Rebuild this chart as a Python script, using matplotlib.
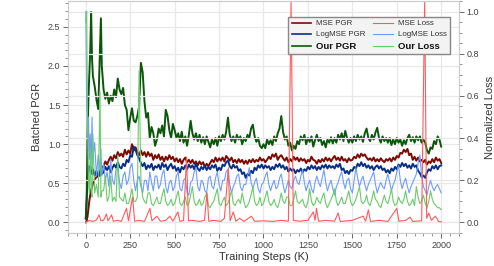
import numpy as np
import matplotlib
matplotlib.use("Agg")
import matplotlib.pyplot as plt
from matplotlib.lines import Line2D
from matplotlib.ticker import MultipleLocator

plt.rcParams['font.family'] = ['Liberation Sans', 'DejaVu Sans']

# training steps (K): dense at the start, then every 10K
steps = [0, 5, 10, 15, 20, 25, 30, 35, 40, 50, 60, 70, 80, 85, 90] + list(range(100, 2001, 10))

# batched PGR (left axis), one row per 100K after the first 100K
our_pgr = [0.05, 0.3, 1.15, 1.6, 1.9, 2.2, 2.69, 2.1, 1.87, 1.74, 1.57, 1.45, 2.2, 2.61, 2.0,
           1.7, 1.58, 1.66, 1.52, 1.62, 1.55, 1.7, 1.6, 1.84, 1.7,
           1.64, 1.72, 1.5, 1.44, 1.18, 1.34, 1.46, 1.3, 1.28, 1.36,
           1.48, 2.04, 1.92, 1.55, 1.34, 1.4, 1.08, 1.22, 1.14, 0.98,
           1.06, 1.2, 1.14, 1.24, 1.1, 1.44, 1.36, 1.18, 1.08, 1.26,
           1.18, 1.08, 1.14, 1.04, 1.16, 1.02, 1.1, 0.98, 1.12, 1.3,
           1.14, 1.06, 1.14, 1.04, 1.12, 1.02, 1.09, 1.0, 1.1, 1.03,
           0.96, 1.06, 1.0, 1.08, 0.98, 1.1, 1.04, 1.12, 1.06, 1.16,
           1.34, 1.12, 1.04, 1.1, 1.02, 1.12, 1.06, 1.1, 1.0, 1.08,
           1.04, 1.12, 1.08, 1.2, 1.25, 1.1, 1.03, 1.08, 0.98, 0.95,
           1.0, 0.95, 1.06, 1.0, 1.05, 0.99, 1.1, 1.04, 1.14, 1.2,
           1.36, 1.16, 1.06, 1.1, 0.98, 1.02, 0.92, 0.98, 0.94, 1.04,
           1.0, 1.1, 1.05, 1.12, 1.0, 1.08, 1.03, 1.1, 0.97, 1.05,
           1.12, 1.04, 1.08, 0.99, 1.04, 0.96, 1.06, 1.02, 1.09, 1.01,
           1.08, 1.02, 1.12, 1.06, 1.14, 1.04, 1.17, 1.08, 1.02, 1.08,
           1.02, 1.1, 1.04, 1.12, 1.06, 1.1, 1.03, 1.14, 1.2, 1.08,
           1.04, 1.12, 1.06, 1.15, 1.21, 1.08, 1.02, 1.1, 1.04, 1.08,
           1.02, 1.08, 0.99, 1.06, 1.0, 1.08, 1.02, 1.06, 0.98, 1.05,
           1.0, 1.08, 1.12, 1.04, 1.09, 1.02, 1.1, 1.05, 1.1, 1.02,
           1.06, 1.02, 0.92, 0.88, 0.96, 0.94, 1.04, 1.0, 1.1, 1.06,
           0.97]
mse_pgr = [0.0, 0.02, 0.08, 0.18, 0.28, 0.35, 0.42, 0.45, 0.5, 0.55, 0.58, 0.62, 0.6, 0.66, 0.7,
           0.72, 0.78, 0.74, 0.8, 0.84, 0.79, 0.86, 0.82, 0.9, 0.85,
           0.88, 0.84, 0.93, 0.87, 0.92, 0.88, 1.0, 0.92, 0.96, 0.9,
           0.86, 0.92, 0.86, 0.9, 0.84, 0.9, 0.85, 0.88, 0.8, 0.86,
           0.82, 0.87, 0.8, 0.84, 0.78, 0.84, 0.8, 0.86, 0.81, 0.84,
           0.78, 0.82, 0.77, 0.81, 0.75, 0.8, 0.83, 0.77, 0.8, 0.76,
           0.8, 0.75, 0.78, 0.73, 0.78, 0.74, 0.77, 0.71, 0.75, 0.72,
           0.76, 0.8, 0.77, 0.83, 0.78, 0.82, 0.79, 0.83, 0.78, 0.85,
           0.82, 0.79, 0.83, 0.77, 0.8, 0.76, 0.81, 0.77, 0.8, 0.75,
           0.79, 0.75, 0.8, 0.77, 0.81, 0.77, 0.8, 0.78, 0.83, 0.79,
           0.81, 0.77, 0.8, 0.84, 0.81, 0.87, 0.84, 0.88, 0.8, 0.84,
           0.86, 0.82, 0.79, 0.83, 0.77, 0.81, 0.78, 0.84, 0.8, 0.83,
           0.78, 0.82, 0.79, 0.81, 0.76, 0.8, 0.78, 0.84, 0.8, 0.79,
           0.75, 0.8, 0.77, 0.81, 0.78, 0.83, 0.79, 0.82, 0.78, 0.82,
           0.85, 0.8, 0.83, 0.79, 0.84, 0.79, 0.81, 0.77, 0.82, 0.79,
           0.8, 0.84, 0.82, 0.87, 0.83, 0.88, 0.85, 0.87, 0.83, 0.8,
           0.82, 0.79, 0.83, 0.78, 0.81, 0.78, 0.82, 0.79, 0.77, 0.81,
           0.79, 0.82, 0.78, 0.83, 0.8, 0.85, 0.83, 0.89, 0.88, 0.93,
           0.9, 0.94, 0.86, 0.88, 0.8, 0.84, 0.79, 0.83, 0.78, 0.8,
           0.77, 0.8, 0.74, 0.78, 0.76, 0.81, 0.77, 0.83, 0.79, 0.81,
           0.76]
logmse_pgr = [0.05, 0.3, 0.55, 0.7, 0.72, 0.65, 0.7, 0.62, 0.68, 0.6, 0.66, 0.58, 0.64, 0.7, 0.62,
              0.64, 0.71, 0.67, 0.72, 0.64, 0.7, 0.74, 0.7, 0.77, 0.71,
              0.69, 0.75, 0.72, 0.8, 0.77, 0.86, 0.84, 0.97, 0.93, 0.86,
              0.82, 0.76, 0.72, 0.76, 0.68, 0.73, 0.7, 0.75, 0.67, 0.72,
              0.7, 0.74, 0.68, 0.76, 0.71, 0.74, 0.67, 0.72, 0.75, 0.69,
              0.72, 0.66, 0.7, 0.64, 0.71, 0.68, 0.73, 0.68, 0.74, 0.7,
              0.73, 0.68, 0.75, 0.69, 0.66, 0.71, 0.68, 0.73, 0.67, 0.71,
              0.68, 0.73, 0.7, 0.74, 0.66, 0.7, 0.67, 0.74, 0.72, 0.77,
              0.79, 0.72, 0.69, 0.74, 0.7, 0.72, 0.66, 0.68, 0.62, 0.64,
              0.57, 0.62, 0.6, 0.66, 0.63, 0.7, 0.67, 0.73, 0.7, 0.74,
              0.69, 0.73, 0.7, 0.72, 0.67, 0.71, 0.68, 0.74, 0.71, 0.75,
              0.7, 0.73, 0.68, 0.71, 0.65, 0.69, 0.66, 0.68, 0.63, 0.67,
              0.65, 0.69, 0.64, 0.68, 0.66, 0.71, 0.68, 0.73, 0.69, 0.72,
              0.67, 0.71, 0.68, 0.73, 0.7, 0.74, 0.69, 0.73, 0.7, 0.72,
              0.69, 0.74, 0.71, 0.75, 0.67, 0.69, 0.63, 0.66, 0.62, 0.67,
              0.66, 0.71, 0.69, 0.75, 0.72, 0.77, 0.72, 0.75, 0.7, 0.73,
              0.69, 0.72, 0.67, 0.71, 0.73, 0.69, 0.72, 0.67, 0.69, 0.64,
              0.67, 0.63, 0.69, 0.66, 0.71, 0.68, 0.74, 0.71, 0.76, 0.72,
              0.75, 0.7, 0.73, 0.69, 0.75, 0.71, 0.73, 0.66, 0.63, 0.58,
              0.6, 0.57, 0.64, 0.68, 0.66, 0.72, 0.69, 0.73, 0.68, 0.72,
              0.73]

# normalized loss (right axis)
logmse_loss = [1.0, 0.55, 0.4, 0.5, 0.3, 0.42, 0.25, 0.5, 0.3, 0.38, 0.22, 0.32, 0.25, 0.35, 0.22,
               0.28, 0.2, 0.24, 0.17, 0.3, 0.2, 0.18, 0.25, 0.26, 0.19,
               0.16, 0.22, 0.24, 0.18, 0.2, 0.26, 0.28, 0.2, 0.15, 0.2,
               0.22, 0.17, 0.14, 0.2, 0.2, 0.15, 0.24, 0.19, 0.15, 0.22,
               0.22, 0.16, 0.18, 0.23, 0.25, 0.17, 0.14, 0.19, 0.2, 0.15,
               0.17, 0.22, 0.24, 0.16, 0.15, 0.2, 0.21, 0.14, 0.13, 0.19,
               0.2, 0.24, 0.26, 0.17, 0.15, 0.2, 0.19, 0.15, 0.14, 0.21,
               0.22, 0.17, 0.16, 0.21, 0.24, 0.18, 0.15, 0.2, 0.2, 0.24,
               0.25, 0.18, 0.14, 0.17, 0.19, 0.22, 0.23, 0.17, 0.15, 0.18,
               0.18, 0.22, 0.26, 0.19, 0.16, 0.19, 0.21, 0.16, 0.14, 0.18,
               0.19, 0.22, 0.24, 0.18, 0.15, 0.18, 0.2, 0.16, 0.17, 0.21,
               0.23, 0.18, 0.14, 0.17, 0.2, 0.17, 0.16, 0.2, 0.22, 0.19,
               0.18, 0.22, 0.25, 0.19, 0.15, 0.18, 0.2, 0.16, 0.14, 0.19,
               0.22, 0.19, 0.17, 0.21, 0.25, 0.19, 0.15, 0.18, 0.2, 0.16,
               0.13, 0.17, 0.19, 0.22, 0.24, 0.19, 0.16, 0.2, 0.21, 0.16,
               0.14, 0.2, 0.26, 0.21, 0.17, 0.2, 0.22, 0.18, 0.15, 0.18,
               0.2, 0.22, 0.24, 0.18, 0.14, 0.17, 0.19, 0.17, 0.16, 0.2,
               0.23, 0.19, 0.15, 0.18, 0.2, 0.24, 0.27, 0.2, 0.16, 0.19,
               0.21, 0.17, 0.14, 0.17, 0.19, 0.21, 0.23, 0.28, 0.32, 0.22,
               0.17, 0.15, 0.13, 0.17, 0.2, 0.17, 0.15, 0.17, 0.18, 0.16,
               0.14]
our_loss = [0.95, 1.0, 0.45, 0.2, 0.14, 0.35, 0.15, 0.12, 0.42, 0.14, 0.18, 0.12, 0.62, 0.12, 0.15,
            0.15, 0.22, 0.1, 0.12, 0.22, 0.1, 0.12, 0.1, 0.32, 0.12,
            0.11, 0.1, 0.14, 0.09, 0.09, 0.12, 0.16, 0.1, 0.1, 0.12,
            0.72, 0.2, 0.12, 0.1, 0.09, 0.14, 0.14, 0.09, 0.08, 0.1,
            0.12, 0.09, 0.09, 0.13, 0.16, 0.1, 0.08, 0.09, 0.11, 0.08,
            0.09, 0.12, 0.15, 0.09, 0.08, 0.1, 0.12, 0.08, 0.09, 0.13,
            0.17, 0.1, 0.08, 0.09, 0.11, 0.08, 0.09, 0.12, 0.14, 0.08,
            0.07, 0.09, 0.1, 0.13, 0.16, 0.09, 0.08, 0.1, 0.12, 0.08,
            0.09, 0.12, 0.15, 0.09, 0.08, 0.1, 0.11, 0.09, 0.14, 0.1,
            0.07, 0.08, 0.1, 0.13, 0.17, 0.1, 0.08, 0.09, 0.12, 0.08,
            0.09, 0.12, 0.15, 0.1, 0.08, 0.09, 0.11, 0.08, 0.07, 0.1,
            0.14, 0.1, 0.09, 0.12, 0.12, 0.08, 0.08, 0.11, 0.15, 0.1,
            0.09, 0.1, 0.11, 0.08, 0.07, 0.1, 0.16, 0.1, 0.08, 0.09,
            0.12, 0.1, 0.09, 0.12, 0.14, 0.09, 0.07, 0.09, 0.11, 0.13,
            0.16, 0.1, 0.08, 0.1, 0.12, 0.09, 0.09, 0.12, 0.15, 0.1,
            0.08, 0.09, 0.11, 0.14, 0.17, 0.1, 0.09, 0.1, 0.13, 0.09,
            0.08, 0.11, 0.15, 0.11, 0.1, 0.08, 0.07, 0.1, 0.13, 0.1,
            0.09, 0.12, 0.16, 0.1, 0.08, 0.09, 0.12, 0.1, 0.09, 0.11,
            0.15, 0.1, 0.08, 0.09, 0.11, 0.08, 0.17, 0.12, 0.09, 0.1,
            0.13, 0.09, 0.07, 0.1, 0.15, 0.11, 0.09, 0.08, 0.07, 0.07,
            0.06]

# MSE loss is flat with sparse spikes, so it has its own step list
mse_loss_steps = [0, 20, 40, 60, 75, 85, 100, 116, 125, 145, 155, 180, 200, 229, 240, 263, 275,
                  300, 330, 361, 372, 400, 420, 450, 473, 490, 518, 530, 550, 567, 578, 600,
                  640, 668, 682, 692, 720, 760, 780, 802, 812, 830, 845, 866, 890, 932, 950,
                  1000, 1050, 1100, 1140, 1155, 1168, 1200, 1250, 1280, 1290, 1298, 1310,
                  1350, 1400, 1420, 1432, 1500, 1561, 1575, 1590, 1602, 1650, 1700, 1750,
                  1762, 1800, 1825, 1840, 1890, 1907, 1918, 1930, 1945, 1967, 1985, 2000]
mse_loss = [0.0, 0.01, 0.005, 0.012, 0.036, 0.008, 0.01, 0.04, 0.008, 0.036, 0.006, 0.01, 0.005,
            0.067, 0.008, 0.12, 0.006, 0.01, 0.005, 0.067, 0.008, 0.03, 0.006, 0.01, 0.03, 0.006,
            0.05, 0.005, 0.01, 0.31, 0.008, 0.01, 0.005, 0.01, 0.14, 0.006, 0.01, 0.005, 0.02,
            0.26, 0.008, 0.05, 0.006, 0.02, 0.005, 0.03, 0.006, 0.008, 0.005, 0.01, 0.006, 1.05,
            0.01, 0.006, 0.01, 0.05, 0.01, 0.067, 0.006, 0.01, 0.006, 0.045, 0.005, 0.01, 0.03,
            0.006, 0.06, 0.005, 0.01, 0.005, 0.067, 0.006, 0.01, 0.025, 0.005, 0.008, 1.05,
            0.02, 0.045, 0.01, 0.03, 0.005, 0.003]

fig = plt.figure(figsize=(4.94, 2.66), dpi=100)
ax = fig.add_axes([0.1377, 0.124, 0.7914, 0.872])
ax2 = ax.twinx()

c_mse_pgr, c_log_pgr, c_our_pgr = '#7d0a02', '#08308a', '#0b560b'
c_mse_loss, c_log_loss, c_our_loss = '#ff5a5a', '#6e9cff', '#6acb6a'

ax.plot(steps, mse_pgr, color=c_mse_pgr, lw=1.4)
ax.plot(steps, logmse_pgr, color=c_log_pgr, lw=1.4)
ax.plot(steps, our_pgr, color=c_our_pgr, lw=1.4)

ax2.plot(steps, logmse_loss, color=c_log_loss, lw=0.8)
ax2.plot(steps, our_loss, color=c_our_loss, lw=0.8)
ax2.plot(mse_loss_steps, mse_loss, color=c_mse_loss, lw=0.8)

ax.set_xlim(-100, 2100)
ax.set_ylim(-0.135, 2.83)
ax2.set_ylim(-0.05, 1.05)

ax.xaxis.set_major_locator(MultipleLocator(250))
ax.xaxis.set_minor_locator(MultipleLocator(50))
ax.yaxis.set_major_locator(MultipleLocator(0.5))
ax.yaxis.set_minor_locator(MultipleLocator(0.1))
ax2.yaxis.set_major_locator(MultipleLocator(0.2))
ax2.yaxis.set_minor_locator(MultipleLocator(0.05))

for a in (ax, ax2):
    a.grid(True, which='major', color='#e8e8e8', lw=0.9)
    a.set_axisbelow(True)
    a.tick_params(which='both', direction='out', colors='#666666', labelcolor='#444444',
                  labelsize=6.5, pad=2)
    a.tick_params(which='major', length=3.5, width=0.7)
    a.tick_params(which='minor', length=2, width=0.5)
    for sp in a.spines.values():
        sp.set_color('#cccccc')
        sp.set_linewidth(0.8)
ax2.grid(False, axis='x')

ax.set_xlabel('Training Steps (K)', fontsize=8, color='#333333', labelpad=2)
ax.set_ylabel('Batched PGR', fontsize=8, color='#333333', labelpad=4)
ax2.set_ylabel('Normalized Loss', fontsize=8, color='#333333', labelpad=4)

handles = [Line2D([], [], color=c_mse_pgr, lw=1.2), Line2D([], [], color=c_log_pgr, lw=1.2),
           Line2D([], [], color=c_our_pgr, lw=1.2), Line2D([], [], color=c_mse_loss, lw=0.8),
           Line2D([], [], color=c_log_loss, lw=0.8), Line2D([], [], color=c_our_loss, lw=0.8)]
labels = ['MSE PGR', 'LogMSE PGR', 'Our PGR', 'MSE Loss', 'LogMSE Loss', 'Our Loss']
leg = ax2.legend(handles, labels, loc='upper right', bbox_to_anchor=(0.987, 0.95), ncol=2,
                 fontsize=5.7, handlelength=2.5, handletextpad=0.6, columnspacing=1.0,
                 labelspacing=0.45, borderpad=0.4, frameon=True, fancybox=False,
                 facecolor='#f3f3f3', edgecolor='#888888', framealpha=1)
for t in leg.get_texts():
    t.set_color('#333333')
    if t.get_text().startswith('Our'):
        t.set_fontweight('bold')
        t.set_fontsize(6.8)
        t.set_color('#111111')

fig.savefig('out.png', dpi=100)
